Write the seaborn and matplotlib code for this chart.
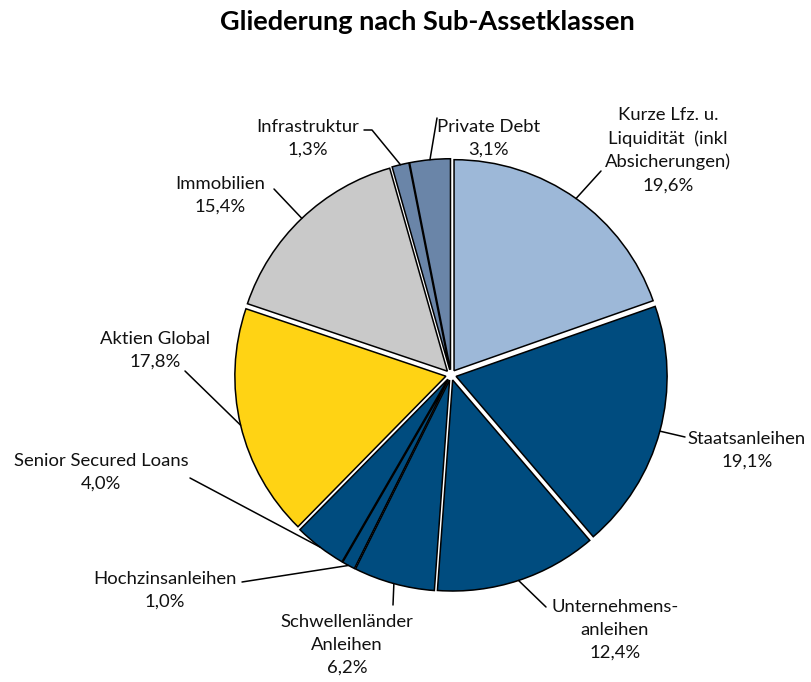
import numpy as np
import matplotlib.pyplot as plt
import seaborn as sns

# data
labels = ["Kurze Lfz. u.\nLiquidität  (inkl\nAbsicherungen)", "Staatsanleihen",
          "Unternehmens-\nanleihen", "Schwellenländer\nAnleihen", "Hochzinsanleihen",
          "Senior Secured Loans", "Aktien Global", "Immobilien", "Infrastruktur",
          "Private Debt"]
shares = [19.6, 19.1, 12.4, 6.2, 1.0, 4.0, 17.8, 15.4, 1.3, 3.1]
colors = ["#9DB8D8", "#004C7F", "#004C7F", "#004C7F", "#004C7F", "#004C7F",
          "#FFD314", "#C9C9C9", "#6A85A8", "#6A85A8"]

# layout in pixels (figure 811x682): text centre, leader line end, optional elbow
text_pos = [(668, 150), (747, 450), (615, 630), (347, 645), (165, 590),
            (101, 472), (155, 350), (220, 195), (308, 138), (489, 138)]
line_end = [(601, 171), (685, 437), (546, 607), (393, 605), (242, 582),
            (190, 478), (185, 371), (274, 189), (372, 130), (437, 118)]
elbow = [None, None, None, None, None, None, None, None, (364, 130), None]

sns.set_theme(style="white")
plt.rcParams['font.family'] = ['Lato', 'DejaVu Sans']

W, H = 811, 682
cx, cy, R = 451, 375, 211

fig = plt.figure(figsize=(W / 100, H / 100), dpi=100)
ax = fig.add_axes([0, 0, 1, 1])

wedges, _ = ax.pie(shares, colors=colors, startangle=90, counterclock=False,
                   explode=[0.025] * len(shares), radius=1,
                   wedgeprops=dict(edgecolor="black", linewidth=1.1))

ax.set_aspect('auto')
ax.set_xlim(-cx / R, (W - cx) / R)
ax.set_ylim(-(H - cy) / R, cy / R)
ax.axis('off')


def px(p):
    return ((p[0] - cx) / R, (cy - p[1]) / R)


for w, lab, val, tp, le, el in zip(wedges, labels, shares, text_pos, line_end, elbow):
    ang = np.deg2rad((w.theta1 + w.theta2) / 2)
    start = (np.cos(ang) * 1.0 + w.center[0], np.sin(ang) * 1.0 + w.center[1])
    pts = [start]
    if el is not None:
        pts.append(px(le))
        pts.append(px(el))
    else:
        pts.append(px(le))
    xs, ys = zip(*pts)
    ax.plot(xs, ys, color="black", linewidth=1.1, clip_on=False)
    txt = lab + "\n" + f"{val:.1f}".replace(".", ",") + "%"
    tx, ty = px(tp)
    ax.text(tx, ty, txt, ha="center", va="center", fontsize=13.3,
            linespacing=1.53, color="#111111")

fig.text(0.5 * 855 / W, 1 - 22 / H, "Gliederung nach Sub-Assetklassen", ha="center",
         va="center", fontsize=19.5, fontweight="bold", color="black")

fig.savefig("out.png", dpi=100)
